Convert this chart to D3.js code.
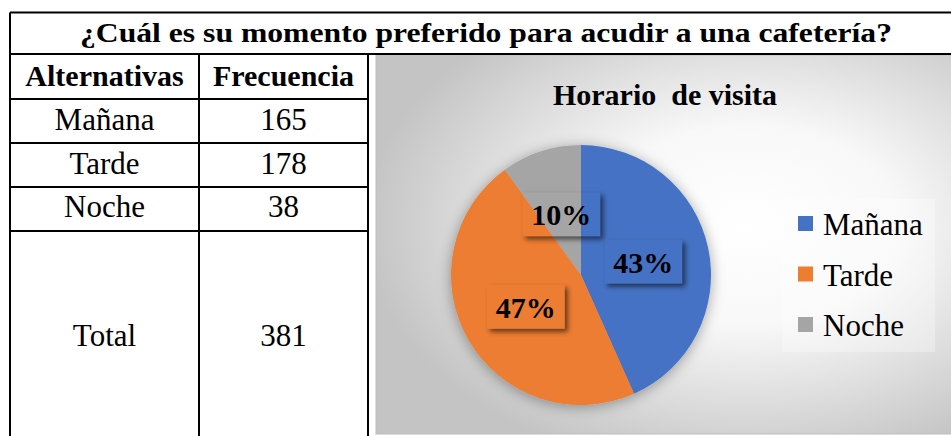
<!DOCTYPE html>
<html>
<head>
<meta charset="utf-8">
<script src="https://cdn.jsdelivr.net/npm/d3@7"></script>
<style>
  body { margin: 0; background: #fff; }
  text { font-family: "Liberation Serif", "Times New Roman", serif; }
</style>
</head>
<body>
<div id="chart"></div>
<script>
// data
const categories = ["Mañana", "Tarde", "Noche"];
const frequencies = [165, 178, 38];
const totalLabel = "Total";
const headers = ["Alternativas", "Frecuencia"];
const title = "¿Cuál es su momento preferido para acudir a una cafetería?";
const chartTitle = "Horario\u00a0 de visita";
const colors = ["#4472C4", "#ED7D31", "#A5A5A5"];

const width = 951, height = 436;
const total = d3.sum(frequencies);

const svg = d3.select("#chart").append("svg")
  .attr("width", width)
  .attr("height", height);

const defs = svg.append("defs");

/* gradient for chart area */
const grad = defs.append("radialGradient")
  .attr("id", "bg")
  .attr("cx", "0.64").attr("cy", "0.45").attr("r", "0.66");
grad.append("stop").attr("offset", "0%").attr("stop-color", "#ffffff");
grad.append("stop").attr("offset", "40%").attr("stop-color", "#f8f8f8");
grad.append("stop").attr("offset", "100%").attr("stop-color", "#c4c4c4");

/* pie shadow */
const pf = defs.append("filter").attr("id", "pieShadow")
  .attr("x", "-20%").attr("y", "-20%").attr("width", "140%").attr("height", "140%");
pf.append("feDropShadow")
  .attr("dx", 0).attr("dy", 2).attr("stdDeviation", 7)
  .attr("flood-color", "#000").attr("flood-opacity", 0.35);

/* label box shadow: only outside the box */
const lf = defs.append("filter").attr("id", "boxShadow")
  .attr("x", "-30%").attr("y", "-30%").attr("width", "160%").attr("height", "160%");
lf.append("feOffset").attr("in", "SourceAlpha").attr("dx", 3).attr("dy", 3).attr("result", "off");
lf.append("feGaussianBlur").attr("in", "off").attr("stdDeviation", 2.5).attr("result", "blur");
lf.append("feComposite").attr("in", "blur").attr("in2", "SourceAlpha").attr("operator", "out").attr("result", "sh");
lf.append("feFlood").attr("flood-color", "#000").attr("flood-opacity", 0.55).attr("result", "col");
lf.append("feComposite").attr("in", "col").attr("in2", "sh").attr("operator", "in");

/* chart area */
const area = { x: 376, y: 55, w: 580, h: 379 };
svg.append("rect")
  .attr("x", area.x).attr("y", area.y)
  .attr("width", area.w).attr("height", area.h)
  .attr("fill", "url(#bg)")
  .attr("stroke", "#bdbdbd").attr("stroke-width", 1);

svg.append("text")
  .attr("x", 665).attr("y", 105)
  .attr("text-anchor", "middle")
  .attr("font-weight", "bold")
  .attr("font-size", 30)
  .text(chartTitle);

/* pie */
const cx = 581, cy = 275, R = 130;
const pie = d3.pie().sort(null).value(d => d.value);
const arcs = pie(categories.map((c, i) => ({ name: c, value: frequencies[i] })));
const arc = d3.arc().innerRadius(0).outerRadius(R);
const labelArc = d3.arc().innerRadius(R * 0.49).outerRadius(R * 0.49);
const color = d3.scaleOrdinal().domain(categories).range(colors);

const g = svg.append("g").attr("transform", `translate(${cx},${cy})`);
g.append("g").attr("filter", "url(#pieShadow)")
  .selectAll("path")
  .data(arcs).enter()
  .append("path")
  .attr("d", arc)
  .attr("fill", d => color(d.data.name));

const fmt = d3.format(".0%");
const labels = g.selectAll(".lbl")
  .data(arcs).enter()
  .append("g")
  .attr("class", "lbl")
  .attr("transform", d => `translate(${labelArc.centroid(d)})`);

labels.append("rect")
  .attr("x", -39).attr("y", -22)
  .attr("width", 78).attr("height", 44)
  .attr("fill", "#000")
  .attr("filter", "url(#boxShadow)");

labels.append("text")
  .attr("text-anchor", "middle")
  .attr("y", 11)
  .attr("font-weight", "bold")
  .attr("font-size", 30)
  .text(d => fmt(d.data.value / total));

/* legend */
svg.append("rect")
  .attr("x", 782).attr("y", 199)
  .attr("width", 153).attr("height", 153)
  .attr("fill", "#ffffff").attr("fill-opacity", 0.3);

const legend = svg.selectAll(".legend")
  .data(categories).enter()
  .append("g")
  .attr("class", "legend")
  .attr("transform", (d, i) => `translate(798, ${235 + i * 50.5})`);

legend.append("rect")
  .attr("x", 0).attr("y", -19)
  .attr("width", 15).attr("height", 15)
  .attr("fill", d => color(d));

legend.append("text")
  .attr("x", 25).attr("y", 0)
  .attr("font-size", 31)
  .text(d => d);

/* table */
const rowsY = [54, 99, 143, 187, 231, 460];
const colsX = [10, 199, 368];
const lineColor = "#000";

svg.append("text")
  .attr("x", 486).attr("y", 42)
  .attr("text-anchor", "middle")
  .attr("font-weight", "bold")
  .attr("font-size", 28)
  .attr("textLength", 812)
  .attr("lengthAdjust", "spacingAndGlyphs")
  .text(title);

// header cells
svg.selectAll(".hdr")
  .data(headers).enter()
  .append("text")
  .attr("x", (d, i) => (colsX[i] + colsX[i + 1]) / 2)
  .attr("y", 86)
  .attr("text-anchor", "middle")
  .attr("font-weight", "bold")
  .attr("font-size", 30)
  .text(d => d);

const rows = categories.map((c, i) => [c, frequencies[i]]);
rows.push([totalLabel, total]);

const rowBase = [130, 174, 217, 346];
rows.forEach((r, ri) => {
  svg.selectAll(null)
    .data(r).enter()
    .append("text")
    .attr("x", (d, i) => (colsX[i] + colsX[i + 1]) / 2)
    .attr("y", rowBase[ri])
    .attr("text-anchor", "middle")
    .attr("font-size", 31)
    .text(d => d);
});

// grid lines
const lines = svg.append("g").attr("stroke", lineColor).attr("stroke-width", 2);
lines.append("line").attr("x1", colsX[0]).attr("x2", width).attr("y1", 12.5).attr("y2", 12.5);
lines.append("line").attr("x1", colsX[0]).attr("x2", width).attr("y1", rowsY[0]).attr("y2", rowsY[0]);
lines.append("line").attr("x1", colsX[0]).attr("x2", colsX[0]).attr("y1", 12.5).attr("y2", height);
rowsY.slice(1, 5).forEach(y => {
  lines.append("line").attr("x1", colsX[0]).attr("x2", colsX[2]).attr("y1", y).attr("y2", y);
});
colsX.slice(1).forEach(x => {
  lines.append("line").attr("x1", x).attr("x2", x).attr("y1", rowsY[0]).attr("y2", height);
});
</script>
</body>
</html>
